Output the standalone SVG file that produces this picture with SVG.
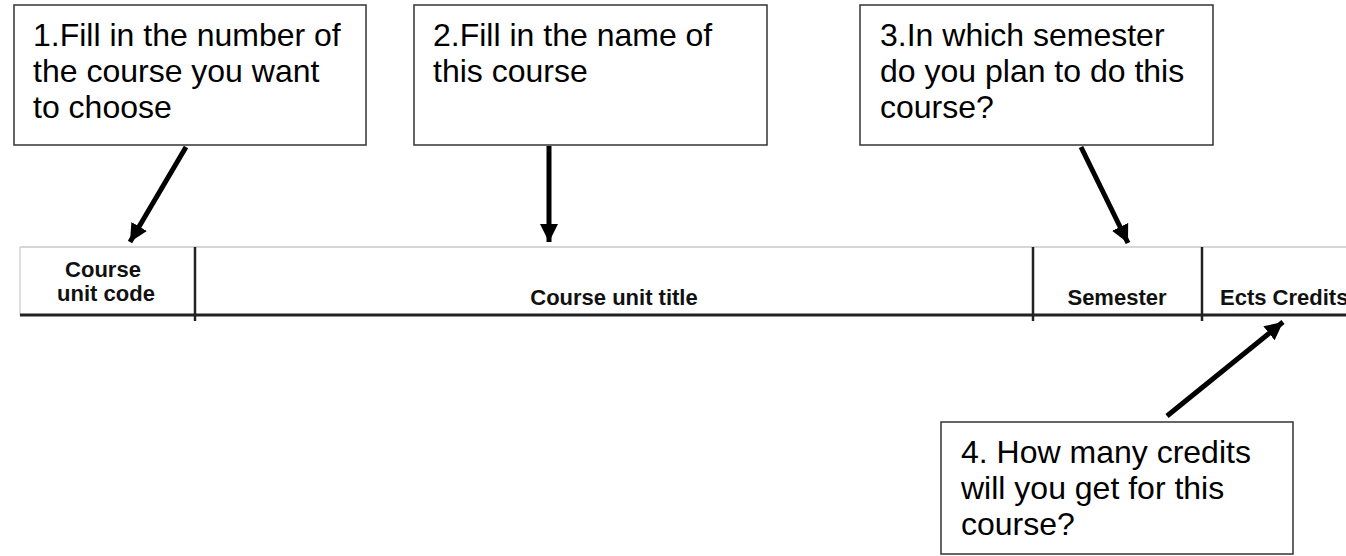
<svg xmlns="http://www.w3.org/2000/svg" width="1346" height="556" viewBox="0 0 1346 556">
<style>
.box{fill:#fff;stroke:#333;stroke-width:1.5}
.t{font-family:"Liberation Sans",Arial,sans-serif;font-size:32px;fill:#000}
.h{font-family:"Liberation Sans",Arial,sans-serif;font-size:22px;font-weight:bold;fill:#111;text-anchor:middle}
.arr{stroke:#000;stroke-width:5;fill:none;marker-end:url(#ah)}
</style>
<defs>
<marker id="ah" markerUnits="userSpaceOnUse" markerWidth="20" markerHeight="20" refX="18" refY="9" orient="auto" viewBox="0 0 20 18">
<path d="M0,0 L18,9 L0,18 Z" fill="#000"/>
</marker>
</defs>
<rect width="1346" height="556" fill="#fff"/>
<g id="table">
<line x1="20" y1="247" x2="1346" y2="247" stroke="#c8c8c8" stroke-width="1.5"/>
<line x1="20" y1="247" x2="20" y2="315" stroke="#c8c8c8" stroke-width="1.2"/>
<line x1="20" y1="315" x2="1346" y2="315" stroke="#222" stroke-width="3"/>
<line x1="195" y1="247" x2="195" y2="321" stroke="#222" stroke-width="2.5"/>
<line x1="1033" y1="247" x2="1033" y2="321" stroke="#222" stroke-width="2.5"/>
<line x1="1202" y1="247" x2="1202" y2="321" stroke="#222" stroke-width="2.5"/>
<text class="h" x="103" y="277">Course</text>
<text class="h" x="106" y="301">unit code</text>
<text class="h" x="614" y="305">Course unit title</text>
<text class="h" x="1117" y="305">Semester</text>
<text class="h" x="1220" y="305" style="text-anchor:start">Ects Credits</text>
</g>
<g id="node1">
<rect class="box" x="14" y="5" width="352" height="140"/>
<text class="t"><tspan x="33" y="46">1.Fill in the number of</tspan><tspan x="33" y="82">the course you want</tspan><tspan x="33" y="118">to choose</tspan></text>
</g>
<g id="node2">
<rect class="box" x="414" y="5" width="353" height="140"/>
<text class="t"><tspan x="433" y="46">2.Fill in the name of</tspan><tspan x="433" y="82">this course</tspan></text>
</g>
<g id="node3">
<rect class="box" x="860" y="5" width="353" height="140"/>
<text class="t"><tspan x="880" y="46">3.In which semester</tspan><tspan x="880" y="82">do you plan to do this</tspan><tspan x="880" y="118">course?</tspan></text>
</g>
<g id="node4">
<rect class="box" x="941" y="422" width="352" height="132"/>
<text class="t"><tspan x="961" y="463">4. How many credits</tspan><tspan x="961" y="499">will you get for this</tspan><tspan x="961" y="535">course?</tspan></text>
</g>
<g id="connectors">
<line class="arr" x1="186" y1="147" x2="130" y2="242"/>
<line class="arr" x1="549" y1="146" x2="549" y2="242"/>
<line class="arr" x1="1081" y1="147" x2="1128" y2="243"/>
<line class="arr" x1="1167" y1="416" x2="1283" y2="322"/>
</g>
</svg>
